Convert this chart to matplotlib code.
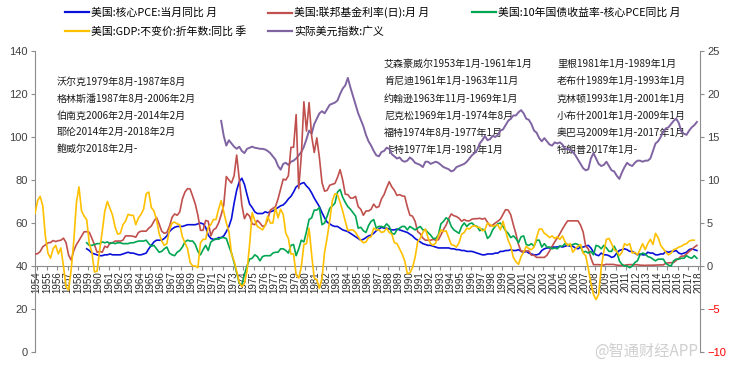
import numpy as np
import matplotlib
matplotlib.use('Agg')
import matplotlib.pyplot as plt
from matplotlib.lines import Line2D

plt.rcParams['font.family'] = ['Noto Sans CJK SC', 'DejaVu Sans']

# ---- data (quarterly samples) ----
fed_start = 1955.0
fed_funds = [
    1.39, 1.43, 1.68, 2.24,  2.45, 2.69, 2.73, 2.96,  2.84, 2.95, 2.99, 3.24,
    2.72, 1.26, 0.68, 1.80,  2.48, 2.96, 3.47, 3.98,  3.99, 3.92, 3.23, 2.47,
    1.60, 1.70, 1.60, 2.30,  2.15, 2.70, 2.70, 2.90,  2.90, 2.90, 3.00, 3.50,
    3.50, 3.50, 3.45, 3.35,  3.90, 4.05, 4.05, 4.05,  4.40, 4.65, 5.20, 5.65,
    4.90, 4.05, 3.80, 3.90,  4.60, 5.65, 6.05, 5.90,  6.30, 7.80, 8.60, 9.00,
    8.95, 8.10, 7.20, 5.90,  4.15, 4.15, 5.30, 5.20,  3.50, 4.20, 4.40, 5.00,
    5.95, 7.10, 10.4, 10.0,  9.65, 10.5, 12.9, 10.1,  7.10, 5.50, 6.10, 5.80,
    4.90, 4.80, 5.30, 5.00,  4.60, 4.70, 5.40, 6.50,  6.70, 6.90, 7.80, 8.95,
    10.1, 10.0, 10.5, 13.8,  13.8, 17.6, 9.00, 12.8,  19.1, 15.7, 19.0, 15.1,
    13.2, 14.9, 12.6, 9.70,  8.70, 8.80, 9.40, 9.50,  9.60, 10.3, 11.2, 10.0,
    8.35, 8.30, 7.90, 7.90,  8.10, 6.90, 6.60, 5.90,  6.40, 6.40, 6.60, 7.20,
    6.80, 6.90, 7.80, 8.30,  9.10, 9.80, 9.20, 8.80,  8.20, 8.30, 8.15, 8.10,
    6.90, 5.90, 5.80, 5.20,  4.00, 3.75, 3.25, 3.00,  3.00, 3.00, 3.10, 3.00,
    3.05, 3.60, 4.25, 4.75,  5.50, 6.05, 5.85, 5.75,  5.55, 5.20, 5.40, 5.25,
    5.25, 5.45, 5.50, 5.50,  5.55, 5.45, 5.55, 5.10,  4.65, 4.75, 5.00, 5.20,
    5.45, 6.00, 6.55, 6.50,  5.95, 4.80, 3.75, 2.50,  1.70, 1.75, 1.75, 1.75,
    1.25, 1.25, 1.00, 1.00,  1.00, 1.00, 1.25, 1.75,  2.30, 2.80, 3.25, 3.75,
    4.30, 4.80, 5.25, 5.25,  5.25, 5.25, 5.25, 4.75,  3.95, 2.30, 2.00, 0.95,
    0.15, 0.15, 0.16, 0.12,  0.11, 0.20, 0.18, 0.19,  0.17, 0.10, 0.07, 0.07,
    0.08, 0.14, 0.16, 0.16,  0.14, 0.15, 0.09, 0.09,  0.07, 0.09, 0.09, 0.09,
    0.11, 0.12, 0.13, 0.12,  0.34, 0.37, 0.39, 0.40,  0.65, 0.91, 1.15, 1.15,
    1.41, 1.69, 1.91, 2.19,  2.40,
]

pce_start = 1960.0
core_pce = [
    2.0, 1.8, 1.5, 1.4,  1.3, 1.2, 1.2, 1.3,  1.3, 1.4, 1.3, 1.3,  1.3, 1.3, 1.4, 1.5,
    1.6, 1.5, 1.5, 1.4,  1.3, 1.3, 1.4, 1.5,  2.0, 2.4, 2.8, 3.0,  3.0, 3.0, 3.2, 3.5,
    4.0, 4.3, 4.5, 4.6,  4.6, 4.6, 4.7, 4.8,  4.8, 4.8, 4.8, 4.9,  5.0, 4.9, 4.5, 3.6,
    3.2, 3.1, 3.1, 3.3,  3.3, 3.5, 4.0, 4.6,  5.5, 7.3, 8.8, 9.8,  10.2, 9.5, 8.3, 7.2,
    6.8, 6.3, 6.1, 6.1,  6.1, 6.3, 6.2, 6.3,  6.4, 6.6, 6.8, 7.0,  7.1, 7.4, 7.8, 8.1,
    8.6, 9.2, 9.4, 9.6,  9.7, 9.3, 9.0, 8.5,  7.9, 7.4, 6.9, 6.2,  5.6, 5.1, 4.9, 4.7,
    4.6, 4.6, 4.4, 4.2,  4.1, 4.0, 3.8, 3.6,  3.4, 3.2, 3.0, 3.1,  3.3, 3.5, 3.6, 3.8,
    4.1, 4.3, 4.5, 4.4,  4.4, 4.3, 4.2, 4.2,  4.3, 4.2, 4.1, 4.0,  3.9, 3.7, 3.5, 3.2,
    3.0, 2.8, 2.6, 2.5,  2.4, 2.4, 2.3, 2.2,  2.1, 2.1, 2.1, 2.1,  2.1, 2.0, 2.0, 1.9,
    1.9, 1.8, 1.8, 1.7,  1.7, 1.7, 1.6, 1.5,  1.4, 1.3, 1.3, 1.4,  1.4, 1.4, 1.5, 1.5,
    1.7, 1.7, 1.8, 1.8,  1.9, 1.8, 1.8, 1.9,  1.7, 1.6, 1.7, 1.5,  1.4, 1.3, 1.3, 1.4,
    1.8, 2.0, 2.1, 2.1,  2.2, 2.2, 2.2, 2.3,  2.2, 2.3, 2.4, 2.3,  2.3, 2.1, 2.0, 2.2,
    2.2, 2.3, 2.4, 2.1,  1.6, 1.3, 1.2, 1.5,  1.3, 1.3, 1.2, 1.0,  1.1, 1.5, 1.8, 1.9,
    2.0, 1.9, 1.7, 1.7,  1.5, 1.3, 1.4, 1.3,  1.3, 1.6, 1.5, 1.5,  1.3, 1.3, 1.4, 1.4,
    1.7, 1.6, 1.7, 1.7,  1.8, 1.5, 1.4, 1.5,  1.6, 1.9, 2.0, 1.9,  1.8,
]

spread_start = 1960.0
yield_minus_pce = [
    2.7, 2.4, 2.4, 2.5,  2.6, 2.6, 2.8, 2.7,  2.8, 2.6, 2.7, 2.6,  2.7, 2.7, 2.6, 2.6,
    2.6, 2.7, 2.7, 2.8,  2.9, 2.9, 2.9, 3.0,  2.6, 2.3, 2.4, 2.0,  1.6, 1.7, 2.0, 2.2,
    1.5, 1.3, 1.2, 1.6,  1.8, 2.2, 2.8, 3.0,  2.9, 2.9, 2.5, 1.7,  1.3, 1.9, 2.4, 1.8,
    2.8, 3.0, 3.2, 3.1,  3.3, 3.3, 3.2, 2.3,  1.5, 0.4, -0.8, -2.0,  -2.2, -1.0, 0.0, 0.8,
    0.9, 1.3, 1.1, 0.6,  1.1, 1.2, 1.2, 1.2,  1.5, 1.6, 1.6, 2.0,  2.0, 1.8, 1.5, 2.4,
    2.5, 1.2, 2.0, 3.0,  2.8, 4.0, 5.4, 5.6,  6.5, 6.5, 6.8, 4.8,  5.0, 5.8, 6.7, 7.0,
    7.3, 8.6, 8.9, 8.0,  7.4, 6.9, 6.6, 6.2,  5.8, 4.4, 4.5, 4.1,  3.9, 4.7, 5.2, 5.4,
    4.4, 4.6, 4.6, 4.5,  4.9, 4.6, 3.8, 3.7,  4.2, 4.4, 4.6, 4.6,  4.2, 4.6, 4.4, 4.2,
    4.4, 4.6, 4.2, 4.2,  3.9, 3.6, 3.2, 3.2,  3.6, 4.9, 5.2, 5.6,  5.4, 4.6, 4.2, 4.0,
    3.8, 4.6, 5.0, 4.6,  4.9, 5.0, 4.7, 4.6,  4.1, 4.3, 4.1, 3.2,  3.5, 4.2, 4.6, 4.9,
    5.0, 4.6, 4.1, 3.8,  3.3, 3.5, 3.2, 2.7,  3.4, 3.5, 2.5, 2.4,  2.6, 2.3, 3.0, 3.0,
    2.2, 2.6, 2.2, 2.2,  2.0, 2.1, 2.0, 2.3,  2.3, 2.6, 2.5, 2.4,  2.5, 2.6, 2.5, 2.2,
    1.6, 1.7, 1.5, 1.7,  1.3, 2.4, 2.3, 2.0,  2.4, 2.1, 1.7, 1.7,  2.3, 1.7, 0.6, 0.2,
    0.0, 0.0, -0.2, 0.0,  0.4, 0.6, 1.3, 1.5,  1.4, 1.1, 1.0, 0.8,  0.6, 0.8, 0.8, 0.8,
    0.3, 0.1, 0.0, 0.6,  0.8, 0.8, 0.9, 0.9,  1.2, 1.0, 0.9, 1.2,  0.9,
]

gdp_start = 1955.0
gdp_yoy = [
    6.1, 7.6, 8.1, 7.0,  3.5, 1.5, 0.9, 2.0,  2.4, 1.4, 2.1, 0.0,  -2.4, -2.8, -0.4, 2.9,
    7.3, 9.2, 6.4, 5.8,  5.4, 2.6, 1.6, -0.7,  -0.6, 1.8, 4.0, 6.4,  7.5, 6.7, 5.9, 4.5,
    3.7, 3.8, 4.8, 5.2,  6.0, 5.9, 5.9, 4.8,  5.6, 6.0, 6.6, 8.4,  8.6, 6.8, 6.4, 5.4,
    3.8, 2.9, 2.4, 2.6,  4.2, 5.0, 5.1, 4.9,  4.8, 3.4, 2.7, 2.0,  0.4, 0.0, 0.0, -0.2,
    2.7, 3.1, 3.1, 4.5,  4.8, 5.4, 5.4, 6.6,  7.6, 6.3, 5.0, 4.0,  1.4, 0.6, -0.6, -1.9,
    -2.4, -2.0, -0.6, 2.5,  6.2, 5.3, 4.6, 4.4,  4.2, 4.7, 5.8, 5.0,  5.0, 6.8, 5.6, 6.6,
    6.0, 3.8, 3.2, 1.4,  1.4, -1.0, -1.4, -0.1,  2.5, 2.6, 4.4, 1.3,  -1.4, -1.6, -2.6, -1.4,
    1.6, 3.3, 5.3, 7.6,  8.4, 8.3, 7.4, 6.4,  5.2, 4.1, 4.2, 4.2,  3.9, 3.4, 3.0, 2.7,
    2.8, 3.3, 3.4, 4.4,  4.2, 4.2, 3.9, 4.0,  4.4, 3.9, 3.7, 2.7,  2.6, 2.0, 1.4, 0.6,
    -0.9, -0.8, -0.2, 1.0,  2.8, 3.2, 3.9, 4.3,  3.3, 2.6, 2.4, 2.7,  3.5, 4.2, 4.0, 4.1,
    3.3, 2.5, 2.4, 2.2,  2.7, 3.7, 3.9, 4.4,  4.3, 4.6, 4.7, 4.5,  4.5, 4.1, 4.2, 5.0,
    4.8, 4.6, 4.7, 4.8,  4.2, 5.2, 4.1, 3.0,  2.3, 1.0, 0.5, 0.2,  1.1, 1.6, 2.3, 2.0,
    1.9, 2.2, 3.3, 4.3,  4.3, 3.8, 3.6, 3.3,  3.5, 3.2, 3.4, 3.1,  3.5, 2.8, 2.4, 2.6,
    1.6, 2.0, 2.3, 2.5,  1.5, 1.2, -0.3, -2.0,  -3.3, -3.9, -3.3, -0.2,  1.7, 3.1, 3.2, 2.6,
    1.9, 1.7, 1.2, 1.6,  2.6, 2.4, 2.6, 1.5,  1.6, 1.3, 1.9, 2.6,  1.9, 2.6, 3.1, 2.5,
    3.8, 3.3, 2.4, 2.0,  1.6, 1.3, 1.5, 1.9,  2.0, 2.2, 2.3, 2.5,  2.6, 2.9, 3.0, 3.0,
]

usd_start = 1973.0
real_usd = [
    107.5, 100.5, 96.0, 98.5,  97.0, 95.5, 94.5, 95.5,  93.5, 92.5, 94.5, 95.0,
    95.5, 95.0, 94.8, 94.5,  94.5, 94.2, 93.5, 92.5,  91.0, 89.5, 86.5, 84.8,
    87.5, 88.0, 87.0, 88.5,  89.0, 90.0, 91.5, 93.0,  95.5, 99.0, 103.0, 101.5,
    106.0, 108.5, 111.0, 112.0,  111.0, 113.0, 115.0, 115.5,  116.0, 117.0, 120.0, 122.5,
    124.0, 127.5, 123.0, 119.0,  115.0, 111.0, 108.0, 105.0,  101.0, 98.0, 96.0, 93.5,
    91.5, 91.0, 93.0, 93.5,  95.0, 94.5, 92.0, 91.0,  90.0, 90.5, 89.0, 88.5,
    89.0, 90.5, 89.5, 88.0,  87.5, 87.0, 86.0, 88.5,  88.5, 87.5, 88.0, 88.5,
    88.0, 87.0, 86.0, 85.5,  85.0, 84.0, 84.5, 86.0,  86.5, 87.0, 87.5, 88.5,
    90.0, 91.5, 92.5, 94.0,  97.0, 98.5, 100.5, 98.5,  99.0, 100.5, 100.0, 101.0,
    103.0, 103.5, 105.5, 107.5,  108.5, 110.0, 110.0, 111.5,  112.5, 111.0, 108.5, 108.0,
    106.0, 103.0, 102.0, 99.5,  98.0, 99.5, 98.0, 96.5,  96.0, 97.5, 97.0, 97.5,
    96.5, 94.5, 94.5, 94.0,  93.0, 91.5, 89.5, 87.5,  85.5, 84.5, 85.0, 90.0,
    92.5, 90.0, 87.5, 86.5,  87.0, 88.5, 86.5, 84.5,  84.0, 82.0, 80.5, 83.5,
    86.0, 88.0, 87.0, 86.5,  88.0, 89.0, 89.0, 88.5,  89.0, 89.0, 90.0, 93.5,
    97.0, 98.0, 100.0, 102.5,  104.0, 104.5, 106.0, 107.5,  108.5, 106.5, 102.5, 101.5,
    101.0, 103.0, 104.5, 105.5,  107.0,
]

years = list(range(1954, 2019))

chairs = ['沃尔克1979年8月-1987年8月', '格林斯潘1987年8月-2006年2月',
          '伯南克2006年2月-2014年2月', '耶伦2014年2月-2018年2月', '鲍威尔2018年2月-']
presidents_a = ['艾森豪威尔1953年1月-1961年1月', '肯尼迪1961年1月-1963年11月',
                '约翰逊1963年11月-1969年1月', '尼克松1969年1月-1974年8月',
                '福特1974年8月-1977年1月', '卡特1977年1月-1981年1月']
presidents_b = ['里根1981年1月-1989年1月', '老布什1989年1月-1993年1月',
                '克林顿1993年1月-2001年1月', '小布什2001年1月-2009年1月',
                '奥巴马2009年1月-2017年1月', '特朗普2017年1月-']

names = ['美国:核心PCE:当月同比 月', '美国:联邦基金利率(日):月 月',
         '美国:10年国债收益率-核心PCE同比 月', '美国:GDP:不变价:折年数:同比 季',
         '实际美元指数:广义']
colors = ['#0A10D8', '#C0504D', '#00A651', '#FFC000', '#8064A2']


def qx(start, vals):
    return start + np.arange(len(vals)) / 4.0


W, H = 735, 371
fig = plt.figure(figsize=(W / 100, H / 100), dpi=100)
ax1 = fig.add_axes([35 / W, 1 - 352 / H, 665 / W, 301 / H])
ax2 = ax1.twinx()

ax1.plot(qx(usd_start, real_usd), real_usd, color=colors[4], lw=1.4, zorder=2)
ax2.plot(qx(pce_start, core_pce), core_pce, color=colors[0], lw=1.2)
ax2.plot(qx(fed_start, fed_funds), fed_funds, color=colors[1], lw=1.2)
ax2.plot(qx(spread_start, yield_minus_pce), yield_minus_pce, color=colors[2], lw=1.2)
ax2.plot(qx(gdp_start, gdp_yoy), gdp_yoy, color=colors[3], lw=1.2)

grey = '#8c8c8c'
ax1.set_xlim(1955.0, 2019.3)
ax1.set_ylim(0, 140)
ax2.set_ylim(-10, 25)
ax1.set_yticks(range(0, 141, 20))
ax2.set_yticks(range(-10, 26, 5))

ax1.spines['top'].set_visible(False)
ax1.spines['right'].set_visible(False)
ax1.spines['bottom'].set_position(('data', 40))
for s in ['left', 'bottom']:
    ax1.spines[s].set_color(grey)
for s in ['top', 'left', 'bottom']:
    ax2.spines[s].set_visible(False)
ax2.spines['right'].set_color(grey)

ax1.set_xticks([y + 1.15 for y in years])
ax1.set_xticklabels([str(y) for y in years], rotation=90, fontsize=7,
                    family='Liberation Sans', color='#262626')
ax1.tick_params(axis='x', length=3, color=grey, pad=1)
ax1.tick_params(axis='y', length=3, color=grey, labelsize=8, labelcolor='#404040', pad=2)
ax2.tick_params(axis='y', length=3, color=grey, labelsize=8, pad=2)
for lbl in ax1.get_yticklabels():
    lbl.set_family('Liberation Sans')
for lbl, v in zip(ax2.get_yticklabels(), range(-10, 26, 5)):
    lbl.set_family('Liberation Sans')
    lbl.set_color('#FF0000' if v < 0 else '#404040')

# annotation blocks (drawn under the lines)
def block(texts, x, y0, step):
    for i, t in enumerate(texts):
        ax1.text(x / W, 1 - (y0 + i * step) / H, t, transform=fig.transFigure,
                 fontsize=7.2, va='center', ha='left', color='#1a1a1a', zorder=1)

block(chairs, 57, 81.7, 16.9)
block(presidents_a, 384, 64, 17.2)
block(presidents_b, 557, 64, 17.2)

# legend, three equal-width columns
handles = [Line2D([], [], color=c, lw=1.6) for c in colors]
cols = [([0, 3], 65), ([1, 4], 268), ([2], 472)]
for idx, x in cols:
    fig.legend([handles[i] for i in idx], [names[i] for i in idx], loc='upper left',
               bbox_to_anchor=(x / W, 1 - 7 / H), frameon=False, fontsize=7.8,
               handlelength=2.2, handletextpad=0.2, borderpad=0, borderaxespad=0,
               labelspacing=0.75)

# watermark, kept just clear of the right axis labels
fig.text(594 / W, 1 - 351 / H, '@智通财经APP', fontsize=11, color='#cfcfcf',
         va='center', ha='left', zorder=10)

fig.savefig('out.png', dpi=100)
